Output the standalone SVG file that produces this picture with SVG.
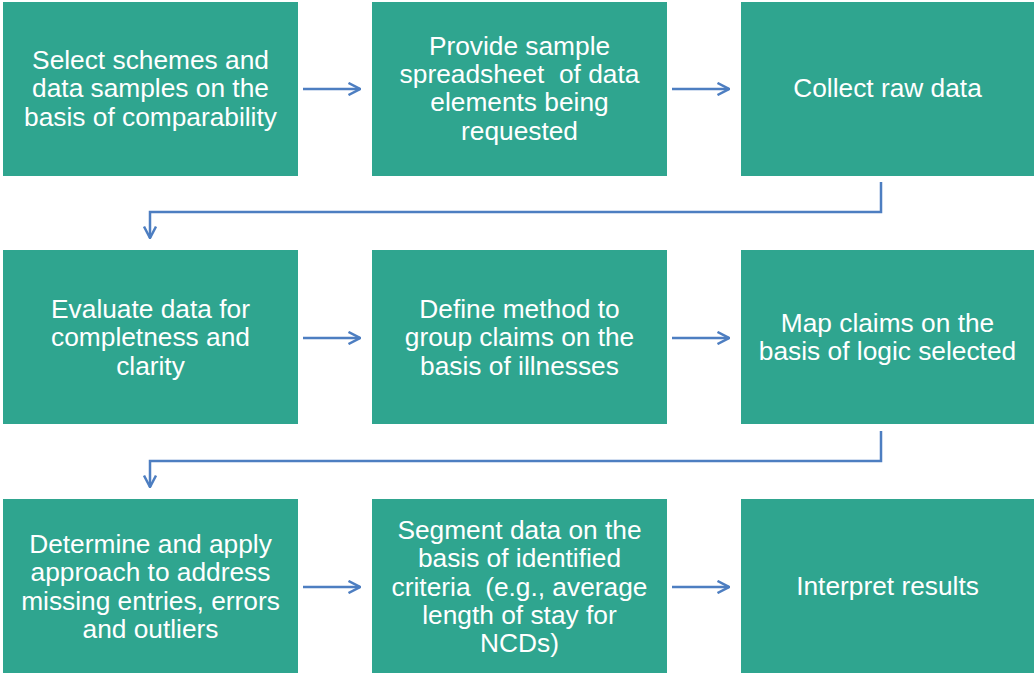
<svg xmlns="http://www.w3.org/2000/svg" width="1034" height="675" viewBox="0 0 1034 675">
  <style>
    .box { fill: #2fa58f; }
    .lbl { font-family: "Liberation Sans", Arial, sans-serif; font-size: 26.3px; fill: #ffffff; text-anchor: middle; white-space: pre; }
    .conn { fill: none; stroke: #4d7ec1; stroke-width: 2.5; }
  </style>
  <defs>
    <marker id="head" viewBox="0 0 14 14" refX="13" refY="7" markerWidth="14" markerHeight="14" markerUnits="userSpaceOnUse" orient="auto">
      <path d="M1.5,1 L13,7 L1.5,13" fill="none" stroke="#4d7ec1" stroke-width="2.5"/>
    </marker>
  </defs>
  <rect width="1034" height="675" fill="#ffffff"/>

  <!-- arrows between steps, plus the two row-wrapping elbows -->
  <g id="connectors">
    <path class="conn" d="M303,89 H360" marker-end="url(#head)"/>
    <path class="conn" d="M672,89 H729" marker-end="url(#head)"/>
    <path class="conn" d="M881,182 V212 H150 V238" marker-end="url(#head)"/>
    <path class="conn" d="M303,338 H360" marker-end="url(#head)"/>
    <path class="conn" d="M672,338 H729" marker-end="url(#head)"/>
    <path class="conn" d="M881,431 V461 H150 V487" marker-end="url(#head)"/>
    <path class="conn" d="M303,587 H360" marker-end="url(#head)"/>
    <path class="conn" d="M672,587 H729" marker-end="url(#head)"/>
  </g>

  <g id="n1">
    <rect class="box" x="3" y="2" width="295" height="174"/>
    <text class="lbl" xml:space="preserve"><tspan x="150.5" y="69">Select schemes and</tspan><tspan x="150.5" y="97">data samples on the</tspan><tspan x="150.5" y="126">basis of comparability</tspan></text>
  </g>
  <g id="n2">
    <rect class="box" x="372" y="2" width="295" height="174"/>
    <text class="lbl" xml:space="preserve"><tspan x="519.5" y="55">Provide sample</tspan><tspan x="519.5" y="83">spreadsheet  of data</tspan><tspan x="519.5" y="111">elements being</tspan><tspan x="519.5" y="140">requested</tspan></text>
  </g>
  <g id="n3">
    <rect class="box" x="741" y="2" width="293" height="174"/>
    <text class="lbl"><tspan x="887.5" y="97">Collect raw data</tspan></text>
  </g>

  <g id="n4">
    <rect class="box" x="3" y="250" width="295" height="174"/>
    <text class="lbl"><tspan x="150.5" y="318">Evaluate data for</tspan><tspan x="150.5" y="346">completness and</tspan><tspan x="150.5" y="375">clarity</tspan></text>
  </g>
  <g id="n5">
    <rect class="box" x="372" y="250" width="295" height="174"/>
    <text class="lbl"><tspan x="519.5" y="318">Define method to</tspan><tspan x="519.5" y="346">group claims on the</tspan><tspan x="519.5" y="375">basis of illnesses</tspan></text>
  </g>
  <g id="n6">
    <rect class="box" x="741" y="250" width="293" height="174"/>
    <text class="lbl"><tspan x="887.5" y="332">Map claims on the</tspan><tspan x="887.5" y="360">basis of logic selected</tspan></text>
  </g>

  <g id="n7">
    <rect class="box" x="3" y="499" width="295" height="174"/>
    <text class="lbl"><tspan x="150.5" y="553">Determine and apply</tspan><tspan x="150.5" y="581">approach to address</tspan><tspan x="150.5" y="610">missing entries, errors</tspan><tspan x="150.5" y="638">and outliers</tspan></text>
  </g>
  <g id="n8">
    <rect class="box" x="372" y="499" width="295" height="174"/>
    <text class="lbl" xml:space="preserve"><tspan x="519.5" y="539">Segment data on the</tspan><tspan x="519.5" y="567">basis of identified</tspan><tspan x="519.5" y="596">criteria  (e.g., average</tspan><tspan x="519.5" y="624">length of stay for</tspan><tspan x="519.5" y="652">NCDs)</tspan></text>
  </g>
  <g id="n9">
    <rect class="box" x="741" y="499" width="293" height="174"/>
    <text class="lbl"><tspan x="887.5" y="595">Interpret results</tspan></text>
  </g>
</svg>
